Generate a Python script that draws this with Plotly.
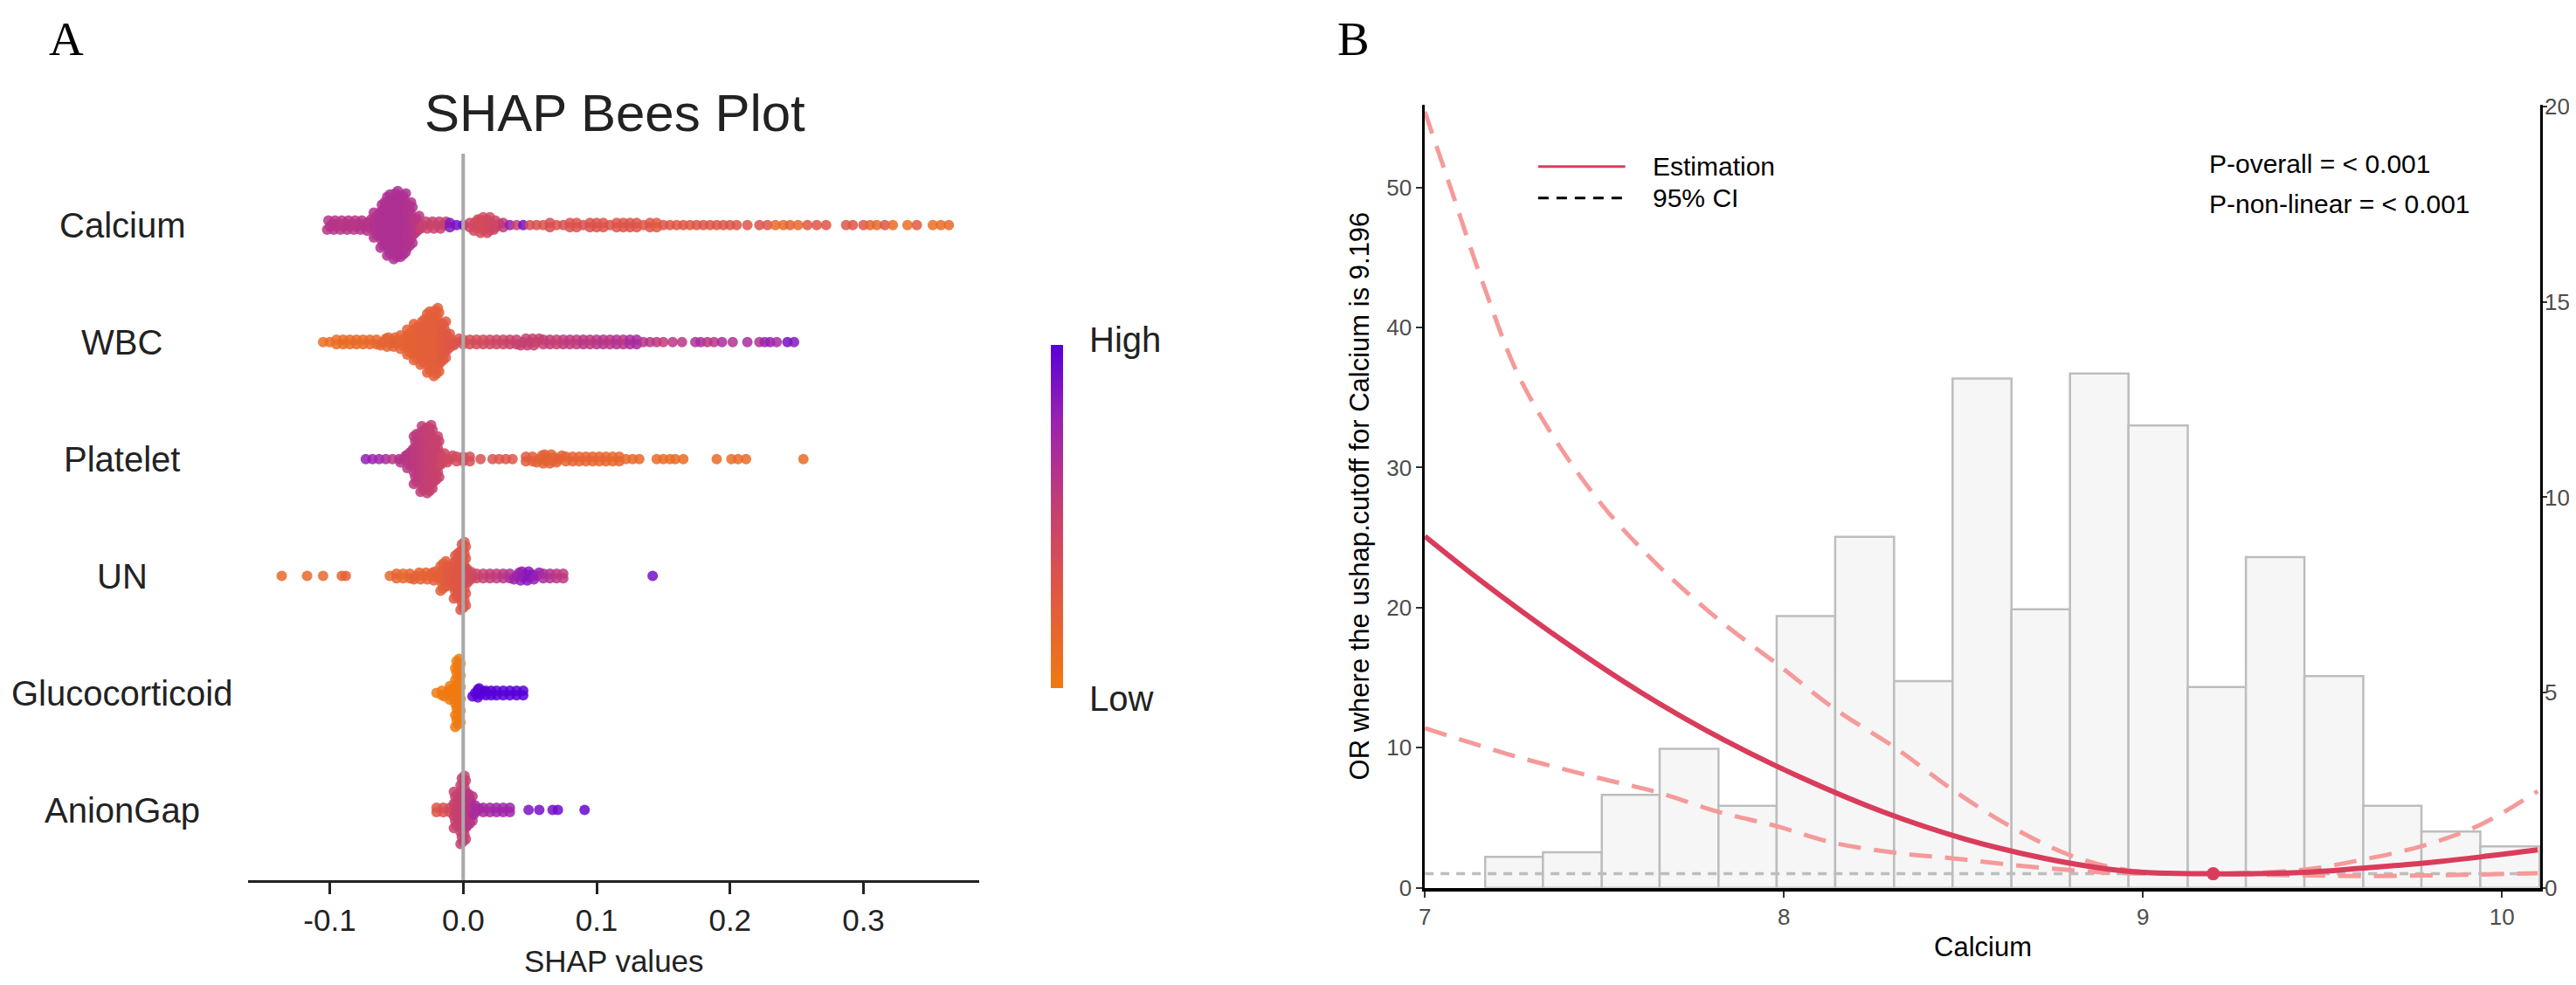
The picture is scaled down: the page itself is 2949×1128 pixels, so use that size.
import plotly.graph_objects as go

W, H = 2949, 1128

# ---------------- panel A: SHAP beeswarm ----------------
features = ["Calcium", "WBC", "Platelet", "UN", "Glucocorticoid", "AnionGap"]

# SHAP value bins, number of stacked points in each bin, feature value (0 low .. 1 high)
calcium_shap = [-0.100, -0.095, -0.090, -0.085, -0.080, -0.075, -0.070, -0.065, -0.060, -0.055,
                -0.050, -0.045, -0.040, -0.035, -0.030, -0.025, -0.020, -0.015, -0.010, -0.005,
                0.000, 0.005, 0.010, 0.015, 0.020, 0.025, 0.030, 0.035, 0.040, 0.045,
                0.050, 0.055, 0.060, 0.065, 0.070, 0.075, 0.080, 0.085, 0.090, 0.095,
                0.100, 0.105, 0.110, 0.115, 0.120, 0.125, 0.130, 0.135, 0.140, 0.145,
                0.150, 0.155, 0.160, 0.165, 0.170, 0.175, 0.180, 0.185, 0.190, 0.195,
                0.200, 0.205,
                0.213, 0.222, 0.228, 0.234, 0.240, 0.245, 0.251, 0.258, 0.265, 0.272, 0.287,
                0.292, 0.300, 0.305, 0.310, 0.316, 0.322, 0.333, 0.340, 0.352, 0.358, 0.364]
calcium_n = [4, 4, 4, 4, 4, 4, 5, 11, 20, 27,
             30, 28, 20, 8, 3, 3, 3, 3, 2, 1,
             1, 2, 5, 7, 7, 4, 2, 1, 1, 1,
             1, 1, 1, 2, 1, 1, 2, 2, 1, 2,
             2, 2, 1, 2, 2, 2, 2, 1, 2, 2,
             1, 1, 1, 1, 1, 1, 1, 1, 1, 1,
             1, 1,
             1, 1, 1, 1, 1, 1, 1, 1, 1, 1, 1,
             1, 1, 1, 1, 1, 1, 1, 1, 1, 1, 1]
calcium_val = [0.62, 0.62, 0.6, 0.62, 0.6, 0.62, 0.62, 0.64, 0.66, 0.66,
               0.66, 0.66, 0.64, 0.6, 0.5, 0.5, 0.48, 0.5, 0.85, 0.9,
               0.9, 0.42, 0.42, 0.4, 0.42, 0.45, 0.55, 0.8, 0.5, 0.9,
               0.35, 0.35, 0.33, 0.35, 0.33, 0.35, 0.33, 0.32, 0.35, 0.33,
               0.33, 0.3, 0.33, 0.3, 0.3, 0.32, 0.3, 0.28, 0.3, 0.25,
               0.3, 0.3, 0.28, 0.3, 0.25, 0.3, 0.3, 0.28, 0.3, 0.3,
               0.3, 0.32,
               0.3, 0.33, 0.3, 0.15, 0.12, 0.2, 0.15, 0.28, 0.3, 0.3, 0.3,
               0.3, 0.28, 0.18, 0.15, 0.3, 0.12, 0.1, 0.25, 0.1, 0.12, 0.15]

wbc_shap = [-0.105, -0.100, -0.095, -0.090, -0.085, -0.080, -0.075, -0.070, -0.065, -0.060,
            -0.055, -0.050, -0.045, -0.040, -0.035, -0.030, -0.025, -0.020, -0.015, -0.010,
            -0.005, 0.000, 0.005, 0.010, 0.015, 0.020, 0.025, 0.030, 0.035, 0.040,
            0.045, 0.050, 0.055, 0.060, 0.065, 0.070, 0.075, 0.080, 0.085, 0.090,
            0.095, 0.100, 0.105, 0.110, 0.115, 0.120, 0.125, 0.130, 0.135, 0.140,
            0.145,
            0.150, 0.157, 0.164, 0.174, 0.178, 0.183, 0.188, 0.194, 0.202, 0.213,
            0.222, 0.226, 0.230, 0.235, 0.243, 0.248]
wbc_n = [1, 1, 2, 2, 2, 2, 2, 2, 2, 3,
         4, 4, 6, 11, 16, 20, 27, 30, 18, 7,
         3, 2, 2, 2, 2, 2, 2, 2, 2, 2,
         3, 3, 3, 2, 2, 2, 2, 2, 2, 2,
         2, 2, 2, 2, 2, 2, 2, 2, 1, 1,
         1,
         1, 1, 1, 1, 1, 1, 1, 1, 1, 1,
         1, 1, 1, 1, 1, 1]
wbc_val = [0.1, 0.12, 0.1, 0.12, 0.12, 0.15, 0.12, 0.15, 0.15, 0.18,
           0.18, 0.2, 0.18, 0.2, 0.2, 0.22, 0.22, 0.22, 0.25, 0.28,
           0.32, 0.35, 0.38, 0.4, 0.4, 0.42, 0.45, 0.45, 0.48, 0.5,
           0.5, 0.52, 0.5, 0.52, 0.55, 0.5, 0.55, 0.58, 0.55, 0.6,
           0.58, 0.6, 0.62, 0.6, 0.65, 0.6, 0.7, 0.72, 0.62, 0.6,
           0.6,
           0.55, 0.6, 0.6, 0.65, 0.7, 0.6, 0.6, 0.7, 0.65, 0.7,
           0.65, 0.75, 0.8, 0.7, 0.9, 0.85]

platelet_shap = [-0.073, -0.068, -0.063, -0.058, -0.053, -0.048,
                 -0.045, -0.040, -0.035, -0.030, -0.025, -0.020, -0.015, -0.010, -0.005, 0.000, 0.005,
                 0.013, 0.022, 0.027, 0.032, 0.037,
                 0.047, 0.052, 0.057, 0.062, 0.067, 0.072, 0.077, 0.082, 0.087, 0.092,
                 0.097, 0.102, 0.107, 0.112, 0.117, 0.122, 0.127, 0.132,
                 0.145, 0.150, 0.155, 0.159, 0.165, 0.190, 0.201, 0.206, 0.212, 0.255]
platelet_n = [1, 1, 1, 1, 1, 1,
              3, 8, 22, 29, 30, 20, 5, 3, 2, 2, 2,
              1, 1, 1, 1, 1,
              2, 2, 3, 4, 4, 3, 2, 2, 2, 2,
              2, 2, 2, 2, 2, 1, 1, 1,
              1, 1, 1, 1, 1, 1, 1, 1, 1, 1]
platelet_val = [0.8, 0.78, 0.75, 0.7, 0.6, 0.65,
                0.62, 0.6, 0.58, 0.55, 0.52, 0.5, 0.45, 0.42, 0.4, 0.4, 0.38,
                0.35, 0.33, 0.3, 0.32, 0.3,
                0.25, 0.22, 0.2, 0.2, 0.18, 0.2, 0.18, 0.2, 0.18, 0.17,
                0.18, 0.16, 0.17, 0.15, 0.16, 0.15, 0.14, 0.15,
                0.12, 0.12, 0.1, 0.12, 0.12, 0.12, 0.1, 0.12, 0.12, 0.12]

un_shap = [-0.136, -0.117, -0.105, -0.091, -0.088,
           -0.055, -0.050, -0.045, -0.040, -0.035, -0.030, -0.025, -0.020, -0.015, -0.010,
           -0.005, 0.000, 0.005, 0.010,
           0.015, 0.020, 0.025, 0.030, 0.035, 0.040, 0.045, 0.050, 0.055, 0.060, 0.065, 0.070, 0.075,
           0.142]
un_n = [1, 1, 1, 1, 1,
        1, 2, 2, 2, 3, 3, 3, 4, 13, 9,
        20, 30, 6, 2,
        2, 2, 2, 2, 2, 3, 4, 4, 3, 2, 2, 2, 2,
        1]
un_val = [0.15, 0.15, 0.15, 0.18, 0.2,
          0.15, 0.18, 0.15, 0.18, 0.2, 0.18, 0.2, 0.22, 0.22, 0.25,
          0.28, 0.3, 0.4, 0.45,
          0.5, 0.55, 0.55, 0.6, 0.65, 0.75, 0.8, 0.85, 0.8, 0.7, 0.65, 0.6, 0.58,
          0.9]

gluco_shap = [-0.020, -0.016, -0.012, -0.008, -0.004,
              0.009, 0.013, 0.017, 0.021, 0.025, 0.030, 0.035, 0.040, 0.045]
gluco_n = [1, 2, 3, 6, 30,
           3, 4, 2, 2, 2, 2, 2, 2, 2]
gluco_val = [0, 0, 0, 0, 0,
             1, 1, 1, 1, 1, 1, 1, 1, 1]

anion_shap = [-0.020, -0.015, -0.010, -0.005, 0.000, 0.005, 0.010, 0.015, 0.020, 0.025, 0.030, 0.035,
              0.049, 0.057, 0.067, 0.071, 0.091]
anion_n = [2, 2, 2, 16, 30, 14, 4, 2, 2, 2, 2, 2,
           1, 1, 1, 1, 1]
anion_val = [0.3, 0.35, 0.4, 0.5, 0.52, 0.6, 0.7, 0.72, 0.72, 0.75, 0.75, 0.75,
             0.88, 0.9, 0.9, 0.92, 0.95]

rows = [(calcium_shap, calcium_n, calcium_val),
        (wbc_shap, wbc_n, wbc_val),
        (platelet_shap, platelet_n, platelet_val),
        (un_shap, un_n, un_val),
        (gluco_shap, gluco_n, gluco_val),
        (anion_shap, anion_n, anion_val)]

# ---------------- panel B: RCS curve + histogram ----------------
est_x = [7.0, 7.157, 7.381, 7.605, 7.83, 8.054, 8.278, 8.502, 8.726, 8.951, 9.196, 9.45, 9.61, 9.78, 9.94, 10.1]
est_y = [25.1, 21.9, 17.7, 13.9, 10.6, 7.8, 5.4, 3.5, 2.1, 1.2, 1.0, 1.1, 1.4, 1.76, 2.2, 2.7]
lo_x = [7.0, 7.25, 7.49, 7.65, 7.82, 7.98, 8.14, 8.31, 8.47, 8.63, 8.80, 8.96, 9.196, 9.45, 9.61, 9.78, 9.94, 10.1]
lo_y = [11.4, 9.4, 7.8, 6.8, 5.4, 4.4, 3.2, 2.5, 2.1, 1.65, 1.25, 1.04, 1.0, 0.88, 0.84, 0.88, 0.95, 1.04]
hi_x = [7.0, 7.078, 7.164, 7.272, 7.467, 7.65, 7.83, 7.98, 8.14, 8.31, 8.47, 8.63, 8.80, 8.96,
        9.196, 9.45, 9.61, 9.78, 9.94, 10.1]
hi_y = [55.4, 49.5, 43.0, 36.0, 28.2, 23.0, 18.9, 16.0, 12.8, 10.0, 7.0, 4.4, 2.3, 1.25,
        1.0, 1.3, 2.0, 3.0, 4.5, 6.9]
cutoff_x = [9.196]
cutoff_y = [1.0]
ref_x = [7.0, 10.107]
ref_y = [1.0, 1.0]

hist_edges = [7.168, 7.329, 7.493, 7.654, 7.818, 7.980, 8.143, 8.307, 8.470, 8.634,
              8.797, 8.960, 9.125, 9.287, 9.450, 9.614, 9.776, 9.940, 10.105]
hist_heights = [0.79, 0.91, 2.38, 3.56, 2.10, 6.96, 8.99, 5.29, 13.04, 7.13,
                13.17, 11.84, 5.14, 8.47, 5.42, 2.10, 1.44, 1.06]

FONT = "Liberation Sans"
RED = "#D93D5B"
PINK = "#F59A9A"


def px_x(p):
    return p / W


def px_y(p):
    return 1 - p / H


# expand binned swarm into points (stacked vertically around each row,
# small staggered x shift inside the bin so the blobs are not blocky)
n_rows = len(rows)
sx, sy, sc = [], [], []
for i, (shap, cnt, val) in enumerate(rows):
    base = n_rows - i
    for s, n, v in zip(shap, cnt, val):
        h = 0.291 * n / 30
        for k in range(n):
            off = 0 if n == 1 else -h + 2 * h * k / (n - 1)
            shift = 0 if n < 3 else (((k * 7) % 5) / 4 - 0.5) * 0.004
            sx.append(s + shift)
            sy.append(base + off)
            sc.append(v)

colorscale = [[0, "#F07A10"], [0.3, "#DE5548"], [0.55, "#C13C78"], [0.78, "#9A22B0"], [1, "#5800D8"]]

fig = go.Figure()

fig.add_trace(go.Scatter(
    x=sx, y=sy, mode="markers", xaxis="x", yaxis="y",
    marker=dict(size=12, color=sc, colorscale=colorscale, cmin=0, cmax=1, opacity=0.85,
                line=dict(width=0),
                colorbar=dict(x=px_x(1198), xanchor="center", y=px_y(585), yanchor="middle",
                              len=424 / H, lenmode="fraction", thickness=14, outlinewidth=0,
                              showticklabels=False, ticks="")),
    hoverinfo="skip", showlegend=False))

centers = [(a + b) / 2 for a, b in zip(hist_edges[:-1], hist_edges[1:])]
widths = [b - a for a, b in zip(hist_edges[:-1], hist_edges[1:])]
fig.add_trace(go.Bar(x=centers, y=hist_heights, width=widths, xaxis="x2", yaxis="y3",
                     marker=dict(color="#F7F6F7", line=dict(color="#BDBDBD", width=2.5)),
                     showlegend=False))

fig.add_trace(go.Scatter(x=ref_x, y=ref_y, mode="lines", xaxis="x2", yaxis="y4",
                         line=dict(color="#BDBDBD", width=3.5, dash="10px,8px"), showlegend=False))
fig.add_trace(go.Scatter(x=hi_x, y=hi_y, mode="lines", xaxis="x2", yaxis="y4",
                         line=dict(color=PINK, width=5, dash="26px,15px", shape="spline", smoothing=1),
                         showlegend=False))
fig.add_trace(go.Scatter(x=lo_x, y=lo_y, mode="lines", xaxis="x2", yaxis="y4",
                         line=dict(color=PINK, width=5, dash="26px,15px", shape="spline", smoothing=1),
                         showlegend=False))
fig.add_trace(go.Scatter(x=est_x, y=est_y, mode="lines", xaxis="x2", yaxis="y4",
                         line=dict(color=RED, width=6, shape="spline", smoothing=1), showlegend=False))
fig.add_trace(go.Scatter(x=cutoff_x, y=cutoff_y, mode="markers", xaxis="x2", yaxis="y4",
                         marker=dict(color=RED, size=15), showlegend=False))

fig.update_layout(
    width=W, height=H, margin=dict(l=0, r=0, t=0, b=0),
    paper_bgcolor="white", plot_bgcolor="white",
    font=dict(family=FONT, color="#222222"),
    xaxis=dict(domain=[px_x(270), px_x(1109)], range=[-0.161, 0.387], anchor="y",
               tickvals=[-0.1, 0.0, 0.1, 0.2, 0.3], ticktext=["-0.1", "0.0", "0.1", "0.2", "0.3"],
               showline=True, linecolor="#222222", linewidth=3, ticks="outside", ticklen=13,
               tickwidth=3, tickcolor="#222222", tickfont=dict(size=35, color="#222222"),
               showgrid=False, zeroline=False),
    yaxis=dict(domain=[px_y(1012), px_y(159)], range=[0.4, 6.61], anchor="x",
               showticklabels=False, showline=False, ticks="", showgrid=False, zeroline=False),
    xaxis2=dict(domain=[px_x(1620), px_x(2900)], range=[7, 10.107], anchor="y3",
                tickvals=[7, 8, 9, 10], showline=True, linecolor="black", linewidth=4,
                ticks="outside", ticklen=7, tickwidth=2, tickcolor="#333333",
                tickfont=dict(size=26, color="#4D4D4D"), showgrid=False, zeroline=False),
    yaxis3=dict(domain=[px_y(1021), px_y(102)], range=[0, 20.04], anchor="x2", side="right",
                tickvals=[0, 5, 10, 15, 20], showline=True, linecolor="black", linewidth=2.5,
                ticks="outside", ticklen=5, tickwidth=2, tickcolor="#333333", ticklabelstandoff=-8,
                tickfont=dict(size=26, color="#4D4D4D"), showgrid=False, zeroline=False),
    yaxis4=dict(overlaying="y3", range=[0, 55.87], anchor="x2", side="left",
                tickvals=[0, 10, 20, 30, 40, 50], showline=True, linecolor="black", linewidth=2.5,
                ticks="outside", ticklen=7, tickwidth=2, tickcolor="#333333",
                tickfont=dict(size=26, color="#4D4D4D"), showgrid=False, zeroline=False),
    showlegend=False,
)

# zero line of the beeswarm
fig.add_shape(type="line", xref="x", yref="paper", x0=0, x1=0, y0=px_y(1012), y1=px_y(159),
              line=dict(color="#A9A9A9", width=4), layer="above")

# legend of panel B
fig.add_shape(type="line", xref="paper", yref="paper", x0=px_x(1750), x1=px_x(1850),
              y0=px_y(174), y1=px_y(174), line=dict(color=RED, width=3))
fig.add_shape(type="line", xref="paper", yref="paper", x0=px_x(1750), x1=px_x(1850),
              y0=px_y(211), y1=px_y(211), line=dict(color="black", width=3, dash="12px,9px"))

ann = []
ann.append(dict(text="A", x=px_x(61), y=px_y(24), font=dict(family="Liberation Serif", size=55, color="black")))
ann.append(dict(text="B", x=px_x(1538), y=px_y(24), font=dict(family="Liberation Serif", size=55, color="black")))
ann.append(dict(text="SHAP Bees Plot", x=px_x(691), y=px_y(111), font=dict(size=60, color="#222222")))
for i, name in enumerate(features):
    ann.append(dict(text=name, x=px_x(125), y=n_rows - i, yref="y", font=dict(size=40, color="#222222")))
ann.append(dict(text="SHAP values", x=px_x(690), y=px_y(1107), font=dict(size=35, color="#222222")))
ann.append(dict(text="High", x=px_x(1233), y=px_y(377), xanchor="left", font=dict(size=40, color="#222222")))
ann.append(dict(text="Low", x=px_x(1233), y=px_y(799), xanchor="left", font=dict(size=40, color="#222222")))
ann.append(dict(text="Calcium", x=px_x(2260), y=px_y(1091), font=dict(size=31, color="black")))
ann.append(dict(text="OR where the ushap.cutoff for Calcium is 9.196", x=px_x(1545), y=px_y(561),
                textangle=-90, font=dict(size=31, color="black")))
ann.append(dict(text="Estimation", x=px_x(1879), y=px_y(174), xanchor="left", font=dict(size=30, color="black")))
ann.append(dict(text="95% CI", x=px_x(1879), y=px_y(211), xanchor="left", font=dict(size=30, color="black")))
ann.append(dict(text="P-overall = < 0.001", x=px_x(2518), y=px_y(171), xanchor="left",
                font=dict(size=30, color="black")))
ann.append(dict(text="P-non-linear = < 0.001", x=px_x(2518), y=px_y(218), xanchor="left",
                font=dict(size=30, color="black")))
for a in ann:
    a.setdefault("xref", "paper")
    a.setdefault("yref", "paper")
    a.setdefault("xanchor", "center")
    a.setdefault("yanchor", "middle")
    a["showarrow"] = False
    fig.add_annotation(**a)

fig.write_html("out.html")
